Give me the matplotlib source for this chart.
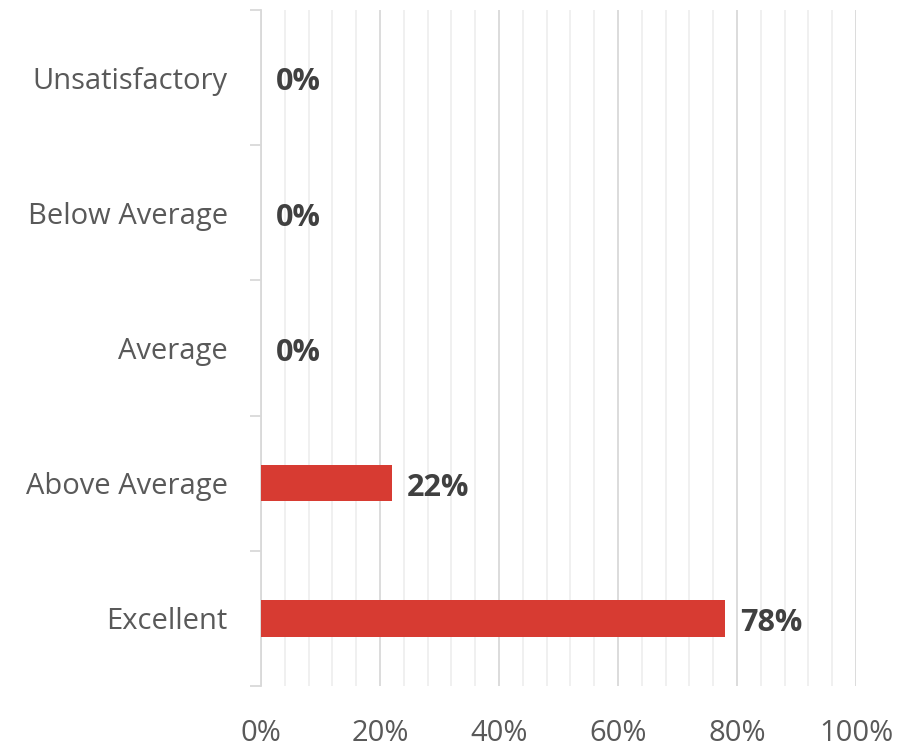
import matplotlib.pyplot as plt
from matplotlib.ticker import MultipleLocator, FixedLocator

plt.rcParams['font.family'] = ['Open Sans', 'DejaVu Sans']

categories = ['Excellent', 'Above Average', 'Average', 'Below Average', 'Unsatisfactory']
values = [0.78, 0.22, 0.0, 0.0, 0.0]
xticks = [0, 0.2, 0.4, 0.6, 0.8, 1.0]
xlabels = ['0%', '20%', '40%', '60%', '80%', '100%']

fig = plt.figure(figsize=(8.99, 7.49), dpi=100)
ax = fig.add_axes([0.2903, 0.0841, 0.6619, 0.9025])

y = range(len(categories))
ax.barh(y, values, height=0.27, color='#D73B32', zorder=3)
for i, v in enumerate(values):
    ax.annotate('{:.0%}'.format(v), (v, i), xytext=(11, -3.5), textcoords='offset points',
                ha='left', va='center', fontsize=22, fontweight='bold', color='#404040', zorder=4)

ax.set_xlim(0, 1.0)
ax.set_ylim(-0.5, 4.5)
ax.set_xticks(xticks)
ax.set_xticklabels(xlabels)
ax.xaxis.set_minor_locator(MultipleLocator(0.04))
ax.set_yticks(list(y))
ax.set_yticklabels(categories)
ax.yaxis.set_minor_locator(FixedLocator([-0.5, 0.5, 1.5, 2.5, 3.5, 4.5]))

ax.grid(axis='x', which='major', color='#d9d9d9', linewidth=1.3, zorder=0)
ax.grid(axis='x', which='minor', color='#efefef', linewidth=1.3, zorder=0)

for s in ['top', 'right', 'bottom']:
    ax.spines[s].set_visible(False)
ax.spines['left'].set_color('#d9d9d9')
ax.spines['left'].set_linewidth(1.3)

ax.tick_params(axis='x', which='both', length=0, pad=24, labelsize=21, labelcolor='#595959')
ax.tick_params(axis='y', which='major', length=0, pad=24, labelsize=21, labelcolor='#595959')
ax.tick_params(axis='y', which='minor', length=8, width=1.3, color='#d9d9d9')

fig.savefig('out.png', dpi=100)
